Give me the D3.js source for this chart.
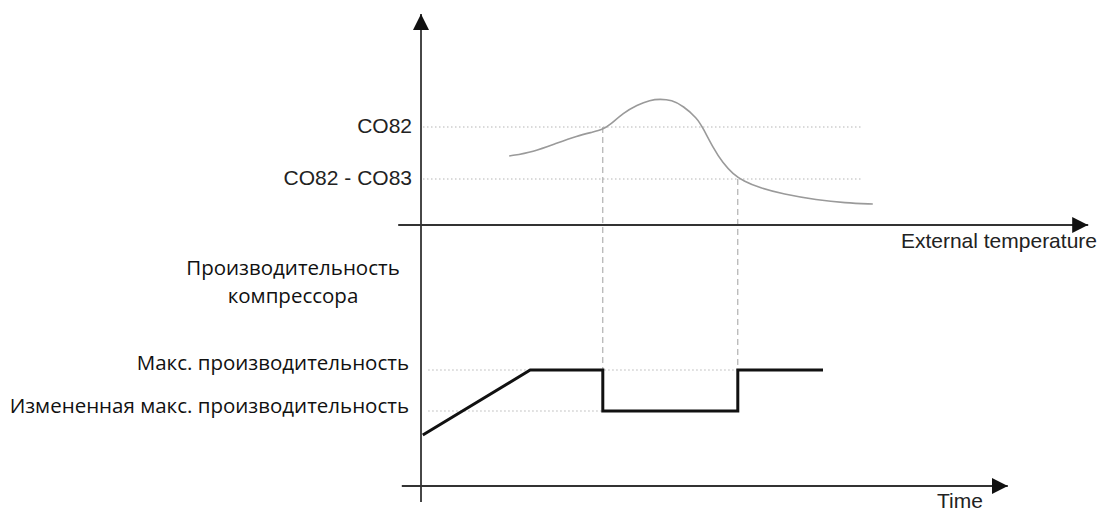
<!DOCTYPE html>
<html>
<head>
<meta charset="utf-8">
<script src="https://cdn.jsdelivr.net/npm/d3@7"></script>
<style>
  body { margin: 0; background: #fff; }
  .lat { font-family: "Liberation Sans", Arial, sans-serif; font-size: 21px; fill: #222; }
  .cyr { font-family: "Open Sans", "Noto Sans", sans-serif; font-size: 20.5px; fill: #111; }
</style>
</head>
<body>
<div id="chart"></div>
<script>
// Chart setup
var svgWidth = 1101;
var svgHeight = 512;

// time units along both horizontal axes
var tempTimes  = [14.7, 18.7, 22.7, 26, 28.7, 30.3, 31.5, 33.7, 36, 38.2, 39.8, 41.8, 43.7, 46, 47, 48.7, 50.3, 52, 53.7, 56.5, 60.3, 66, 70.7, 75.3];
var tempValues = [34.5, 36.5, 41, 44.5, 46.5, 47.8, 50, 56, 60, 62.5, 63, 62.5, 59.5, 53.5, 48.5, 38.5, 31, 25.5, 22, 18.5, 15.5, 12.5, 11, 10.5];

// compressor capacity (lower diagram)
var capTimes  = [0.3, 18.2, 30.3, 30.3, 52.8, 52.8, 67];
var capValues = [25.5, 58, 58, 37.5, 37.5, 58, 58];

// threshold levels
var tempLevels = [{label: "CO82", value: 49, end: 73.5}, {label: "CO82 - CO83", value: 23, end: 73.5}];
var capLevels = [{label: "Макс. производительность", value: 58, end: 52.8},
                 {label: "Измененная макс. производительность", value: 37.5, end: 30.3}];
var eventTimes = [30.3, 52.8];
var eventStart = [49, 23];

var svg = d3.select("#chart")
  .append("svg")
  .attr("width", svgWidth)
  .attr("height", svgHeight);

var x = d3.scaleLinear().domain([0, 100]).range([421, 1021]);
var yTemp = d3.scaleLinear().domain([0, 100]).range([225, 25]);
var yCap = d3.scaleLinear().domain([0, 100]).range([486, 286]);

var defs = svg.append("defs");
defs.append("marker")
  .attr("id", "arrow")
  .attr("viewBox", "0 0 16 16")
  .attr("refX", 16).attr("refY", 8)
  .attr("markerWidth", 16).attr("markerHeight", 16)
  .attr("markerUnits", "userSpaceOnUse")
  .attr("orient", "auto")
  .append("path")
  .attr("d", "M0,0 L16,8 L0,16 Z")
  .attr("fill", "#111");

// dotted level lines
svg.selectAll(".tlev").data(tempLevels).enter().append("line")
  .attr("x1", x(0) + 2).attr("x2", d => x(d.end))
  .attr("y1", d => yTemp(d.value)).attr("y2", d => yTemp(d.value))
  .attr("stroke", "#b5b5b5").attr("stroke-width", 1).attr("stroke-dasharray", "1.5,2.5");

svg.selectAll(".clev").data(capLevels).enter().append("line")
  .attr("x1", x(1.2)).attr("x2", d => x(d.end))
  .attr("y1", d => yCap(d.value)).attr("y2", d => yCap(d.value))
  .attr("stroke", "#b5b5b5").attr("stroke-width", 1).attr("stroke-dasharray", "1.5,2.5");

// dashed event lines
svg.selectAll(".ev").data(eventTimes).enter().append("line")
  .attr("x1", d => x(d)).attr("x2", d => x(d))
  .attr("y1", (d, i) => yTemp(eventStart[i])).attr("y2", yCap(58))
  .attr("stroke", "#a0a0a0").attr("stroke-width", 1).attr("stroke-dasharray", "6,4");

// axes
svg.append("line")
  .attr("x1", x(0)).attr("x2", x(0))
  .attr("y1", yCap(-8)).attr("y2", yTemp(105.5))
  .attr("stroke", "#333").attr("stroke-width", 1.8)
  .attr("marker-end", "url(#arrow)");

svg.append("line")
  .attr("x1", x(-3.8)).attr("x2", x(111.2))
  .attr("y1", yTemp(0)).attr("y2", yTemp(0))
  .attr("stroke", "#333").attr("stroke-width", 1.8)
  .attr("marker-end", "url(#arrow)");

svg.append("line")
  .attr("x1", x(-3.2)).attr("x2", x(97.8))
  .attr("y1", yCap(0)).attr("y2", yCap(0))
  .attr("stroke", "#333").attr("stroke-width", 1.8)
  .attr("marker-end", "url(#arrow)");

// temperature curve
var tempLine = d3.line()
  .x((d, i) => x(tempTimes[i]))
  .y(d => yTemp(d))
  .curve(d3.curveBasis);

svg.append("path")
  .attr("d", tempLine(tempValues))
  .attr("fill", "none")
  .attr("stroke", "#9a9a9a")
  .attr("stroke-width", 1.6);

// capacity line
var capLine = d3.line()
  .x((d, i) => x(capTimes[i]))
  .y(d => yCap(d));

svg.append("path")
  .attr("d", capLine(capValues))
  .attr("fill", "none")
  .attr("stroke", "#111")
  .attr("stroke-width", 3)
  .attr("stroke-linejoin", "miter");

// labels
svg.selectAll(".tlab").data(tempLevels).enter().append("text")
  .attr("class", "lat")
  .attr("x", 412)
  .attr("y", d => yTemp(d.value) + 6)
  .attr("text-anchor", "end")
  .text(d => d.label);

svg.append("text").attr("class", "lat")
  .attr("x", 1097).attr("y", 248)
  .attr("text-anchor", "end")
  .text("External temperature");

svg.append("text").attr("class", "lat")
  .attr("x", 960).attr("y", 508)
  .attr("text-anchor", "middle")
  .text("Time");

svg.selectAll(".clab").data(capLevels).enter().append("text")
  .attr("class", "cyr")
  .attr("x", 409)
  .attr("y", (d, i) => i === 0 ? 370 : 413)
  .attr("text-anchor", "end")
  .text(d => d.label);

var title = svg.append("text").attr("class", "cyr")
  .attr("x", 293).attr("text-anchor", "middle");
title.append("tspan").attr("x", 293).attr("y", 275).text("Производительность");
title.append("tspan").attr("x", 293).attr("y", 303).text("компрессора");
</script>
</body>
</html>
